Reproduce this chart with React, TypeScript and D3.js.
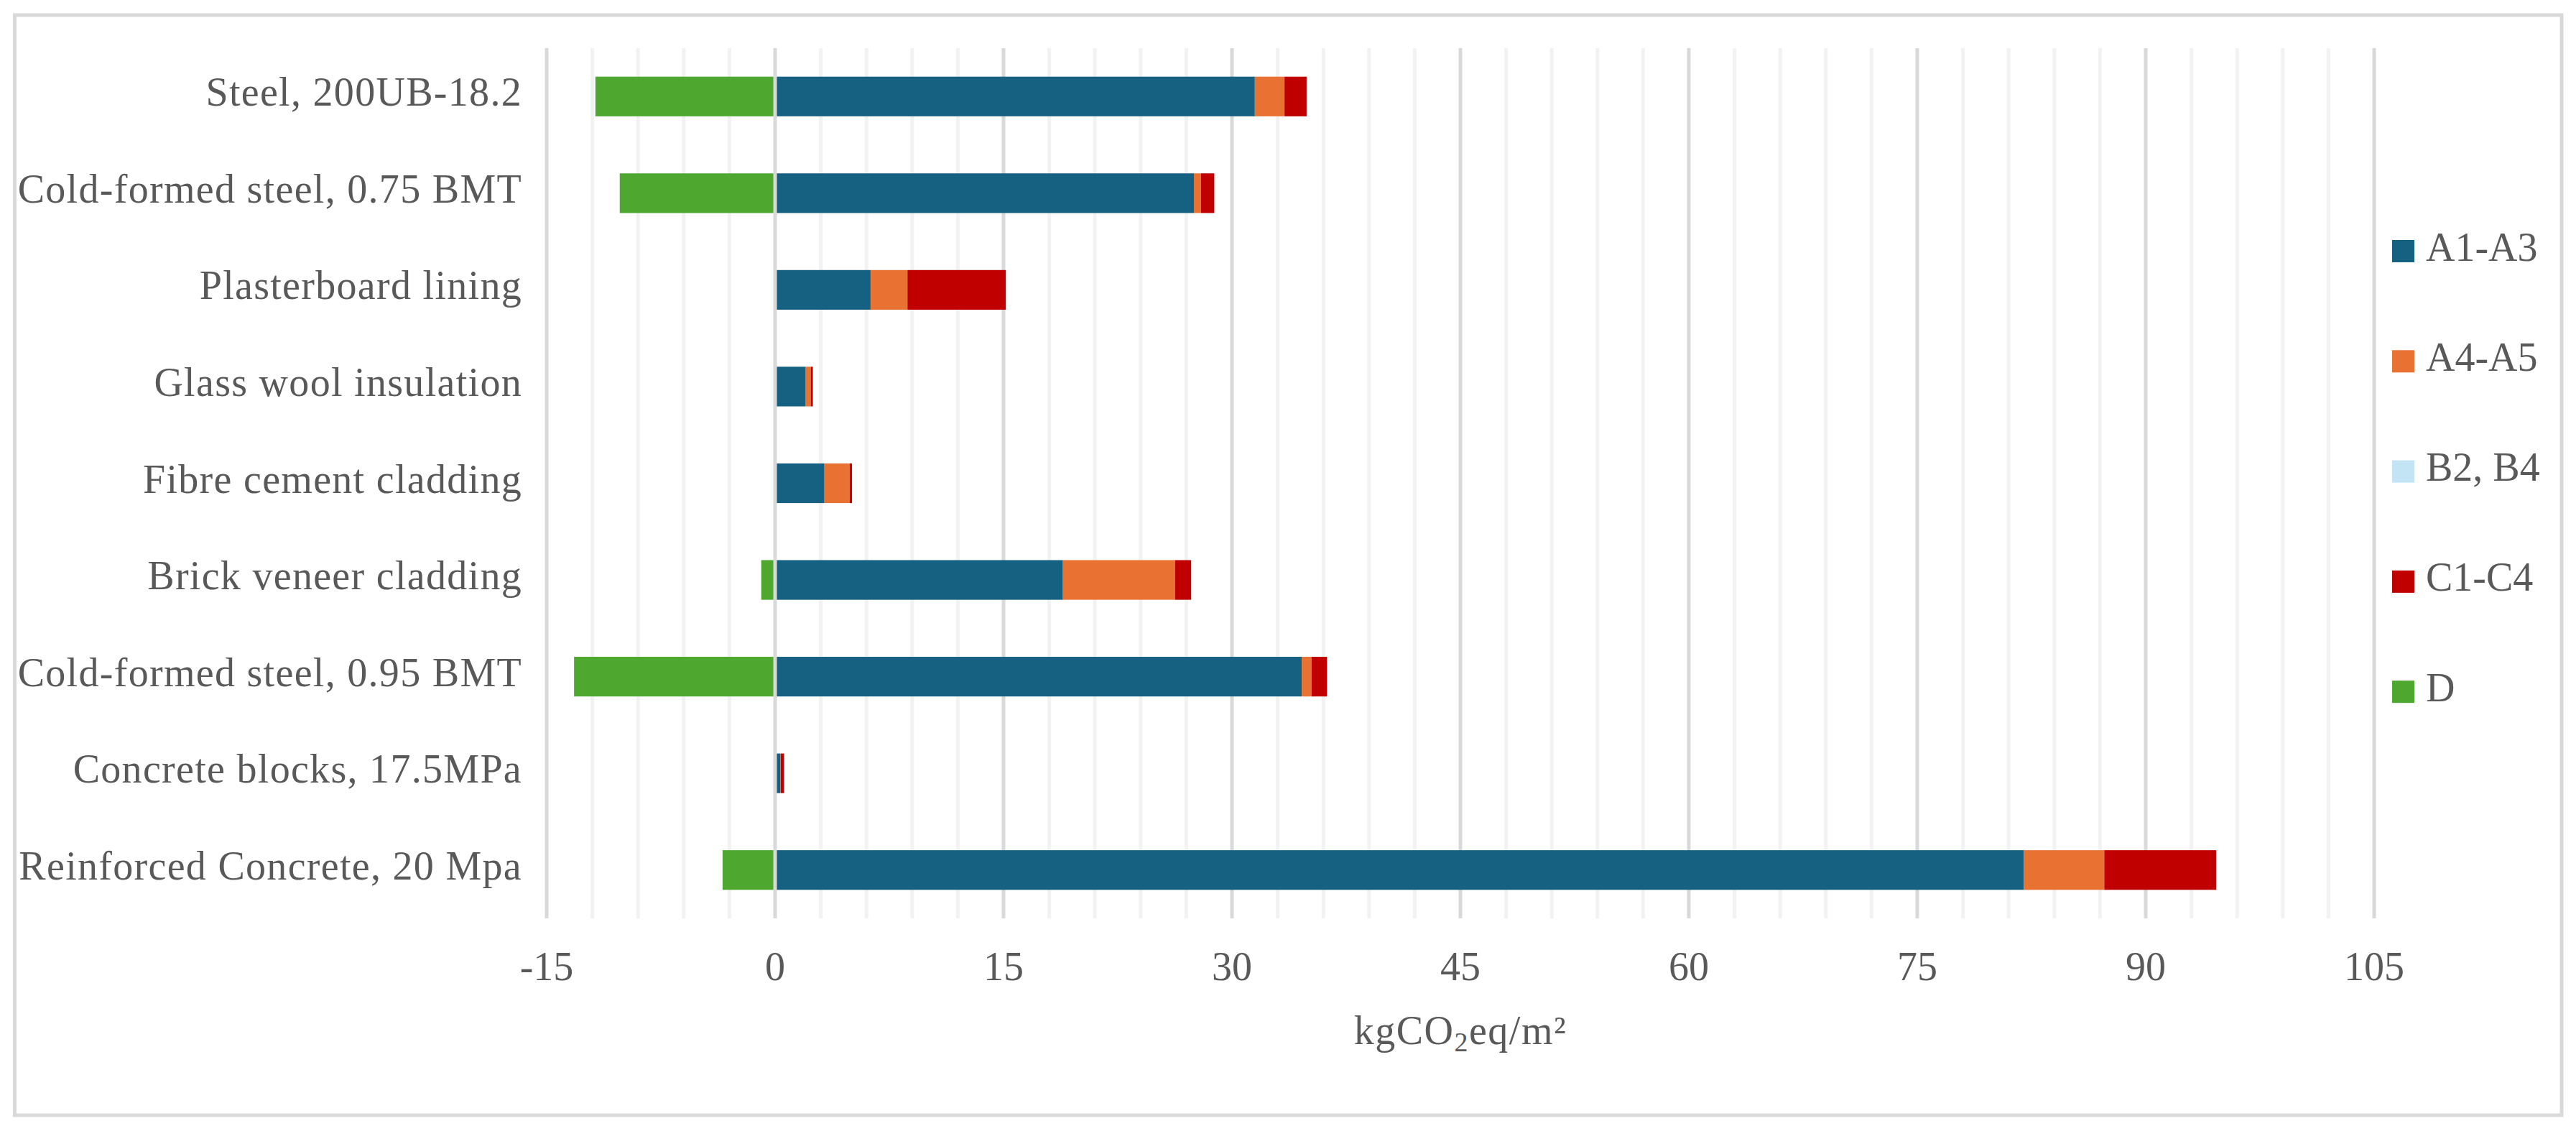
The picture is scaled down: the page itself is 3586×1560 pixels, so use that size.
import React, { useEffect } from 'react';
import * as d3 from 'd3';

// categories, top to bottom as in the chart
const categories = [
  'Steel, 200UB-18.2',
  'Cold-formed steel, 0.75 BMT',
  'Plasterboard lining',
  'Glass wool insulation',
  'Fibre cement cladding',
  'Brick veneer cladding',
  'Cold-formed steel, 0.95 BMT',
  'Concrete blocks, 17.5MPa',
  'Reinforced Concrete, 20 Mpa',
];

const a1a3 = [31.5, 27.5, 6.27, 1.98, 3.24, 18.9, 34.58, 0.35, 82.0];
const a4a5 = [1.95, 0.47, 2.42, 0.36, 1.66, 7.37, 0.64, 0.02, 5.28];
const b2b4 = [0, 0, 0, 0, 0, 0, 0, 0, 0];
const c1c4 = [1.45, 0.87, 6.46, 0.14, 0.15, 1.05, 1.02, 0.22, 7.35];
const dModule = [-11.8, -10.2, 0, 0, 0, -0.91, -13.2, 0, -3.45];

const seriesNames = ['A1-A3', 'A4-A5', 'B2, B4', 'C1-C4', 'D'];
const seriesColors = ['#166082', '#e97132', '#c3e4f5', '#c00000', '#4ea72e'];
const seriesValues = [a1a3, a4a5, b2b4, c1c4, dModule];

const xTicks = [-15, 0, 15, 30, 45, 60, 75, 90, 105];
const xMinor = d3.range(-15, 106, 3);

const W = 3586;
const H = 1560;
const FONT = '"Liberation Serif", "Times New Roman", serif';
const TEXT = '#595959';

export default function App() {
  useEffect(() => {
    document.body.style.margin = '0';
  }, []);

  const x = d3.scaleLinear().domain([-15, 105]).range([761, 3305]);
  const y = d3.scaleBand<string>()
    .domain(categories)
    .range([67, 1278])
    .paddingInner(0.59)
    .paddingOuter(0.295);

  const rows = categories.map((c, i) => {
    const r: Record<string, any> = { category: c };
    seriesNames.forEach((s, k) => { r[s] = seriesValues[k][i]; });
    return r;
  });

  const stacked = d3.stack<any>()
    .keys(seriesNames)
    .offset(d3.stackOffsetDiverging)(rows);

  const legendY = (i: number) => 349.5 + i * 153.3;

  return (
    <svg width={W} height={H} style={{ display: 'block', background: '#fff' }} fontFamily={FONT}>
      <rect x={20.5} y={21} width={3545.5} height={1531} fill="#fff" stroke="#d9d9d9" strokeWidth={5} />

      {/* minor gridlines */}
      {xMinor.filter(v => v % 15 !== 0).map(v => (
        <line key={'m' + v} x1={x(v)} x2={x(v)} y1={67} y2={1278} stroke="#f2f2f2" strokeWidth={5} />
      ))}
      {/* major gridlines */}
      {xTicks.filter(v => v !== 0).map(v => (
        <line key={'g' + v} x1={x(v)} x2={x(v)} y1={67} y2={1278} stroke="#d9d9d9" strokeWidth={5} />
      ))}

      {/* bars */}
      {stacked.map((layer, k) => (
        <g key={layer.key} fill={seriesColors[k]}>
          {layer.map((d, i) => {
            const x0 = x(Math.min(d[0], d[1]));
            const x1 = x(Math.max(d[0], d[1]));
            if (x1 - x0 <= 0) return null;
            return (
              <rect key={i} x={x0} y={y(categories[i])} width={x1 - x0} height={y.bandwidth()} />
            );
          })}
        </g>
      ))}

      {/* zero axis line on top */}
      <line x1={x(0)} x2={x(0)} y1={67} y2={1278} stroke="#d9d9d9" strokeWidth={5} />

      {/* category labels */}
      {categories.map(c => (
        <text key={c} x={727} y={(y(c) as number) + y.bandwidth() / 2 + 13} textAnchor="end"
          fontSize={56} fill={TEXT} letterSpacing={1.3}>{c}</text>
      ))}

      {/* x tick labels */}
      {xTicks.map(v => (
        <text key={'t' + v} x={x(v)} y={1364} textAnchor="middle" fontSize={56} fill={TEXT}>{v}</text>
      ))}

      {/* axis title */}
      <text x={x(45)} y={1453} textAnchor="middle" fontSize={56} fill={TEXT} letterSpacing={1.5}>
        kgCO<tspan fontSize={38} dy={10}>2</tspan><tspan dy={-10}>eq/m²</tspan>
      </text>

      {/* legend */}
      {seriesNames.map((s, i) => (
        <g key={s}>
          <rect x={3330} y={legendY(i) - 15.5} width={31} height={31} fill={seriesColors[i]} />
          <text x={3377} y={legendY(i) + 13} fontSize={56} fill={TEXT}>{s}</text>
        </g>
      ))}
    </svg>
  );
}
